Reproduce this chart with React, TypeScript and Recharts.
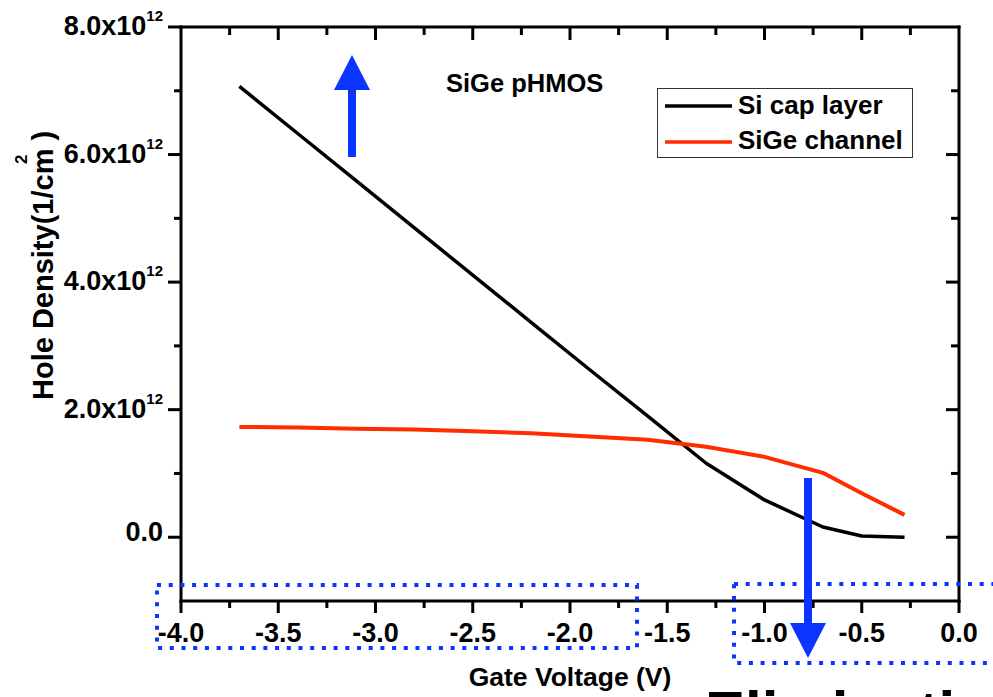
import React from 'react';
import { LineChart, Line, XAxis, YAxis, Legend } from 'recharts';

// gate voltage (V) and hole density in units of 1e12 cm^-2
const gateVoltage = [-3.7, -3.4, -3.1, -2.8, -2.5, -2.2, -1.9, -1.6, -1.3, -1.0, -0.7, -0.5, -0.28];
const siCapLayer = [7.07, 6.33, 5.59, 4.85, 4.11, 3.37, 2.63, 1.9, 1.16, 0.585, 0.16, 0.02, 0.0];
const sigeChannel = [1.73, 1.72, 1.7, 1.69, 1.66, 1.63, 1.58, 1.53, 1.42, 1.26, 1.01, 0.69, 0.35];

const xTicks = [-4, -3.75, -3.5, -3.25, -3, -2.75, -2.5, -2.25, -2, -1.75, -1.5, -1.25, -1, -0.75, -0.5, -0.25, 0];
const yTicks = [0, 1, 2, 3, 4, 5, 6, 7, 8];

const data = gateVoltage.map((v, i) => ({ v, cap: siCapLayer[i], sige: sigeChannel[i] }));

const FONT = '"Liberation Sans", Arial, sans-serif';
const tickFont: React.CSSProperties = { fontFamily: FONT, fontWeight: 'bold', fontSize: 27, fill: '#000' };
const axisStyle = { stroke: '#000', strokeWidth: 3, strokeLinecap: 'square' as const };
const BLUE = '#0b34ff';

// frame edges (top / right) for the mirrored inward ticks
const PLOT_TOP = 27;
const PLOT_RIGHT = 959;

const isMajorX = (v: number) => Math.abs(v * 2 - Math.round(v * 2)) < 1e-6;
const isMajorY = (v: number) => Math.round(v) % 2 === 0;

const BottomTick = (props: any) => {
  const { x, y, payload } = props;
  const v = payload.value;
  const major = isMajorX(v);
  return (
    <g>
      <line x1={x} x2={x} y1={y} y2={y + (major ? 12 : 7)} stroke="#000" strokeWidth={3} />
      {v > -4 && v < 0 && (
        <line x1={x} x2={x} y1={PLOT_TOP} y2={PLOT_TOP + (major ? 13 : 8)} stroke="#000" strokeWidth={3} />
      )}
      {major && (
        <text x={x} y={y + 41} textAnchor="middle" style={tickFont}>
          {v.toFixed(1)}
        </text>
      )}
    </g>
  );
};

const LeftTick = (props: any) => {
  const { x, y, payload } = props;
  const v = payload.value;
  const major = isMajorY(v);
  return (
    <g>
      <line x1={x} x2={x - (major ? 13 : 7)} y1={y} y2={y} stroke="#000" strokeWidth={3} />
      {v < 8 && (
        <line x1={PLOT_RIGHT} x2={PLOT_RIGHT - (major ? 13 : 8)} y1={y} y2={y} stroke="#000" strokeWidth={3} />
      )}
      {major && v === 0 && (
        <text x={x - 18} y={y + 4} textAnchor="end" style={tickFont}>0.0</text>
      )}
      {major && v !== 0 && (
        <text x={x - 18} y={y + 8} textAnchor="end" style={tickFont}>
          <tspan>{v.toFixed(1)}x10</tspan>
          <tspan fontSize={15} dy={-14}>12</tspan>
        </text>
      )}
    </g>
  );
};

const XTitle = () => (
  <text x={570} y={686} textAnchor="middle" style={{ ...tickFont, fontSize: 26.5 }}>Gate Voltage (V)</text>
);

const YTitle = () => (
  <g transform="rotate(-90, 53, 400)">
    <text x={53} y={400} style={{ ...tickFont, fontSize: 29 }}>Hole Density(1/cm )</text>
    <text x={53 + 236} y={400 - 26} style={{ ...tickFont, fontSize: 17 }}>2</text>
  </g>
);

const renderLegend = (props: any) => {
  const items = props.payload || [];
  return (
    <svg width={256} height={70} style={{ display: 'block' }}>
      <rect x={0.5} y={0.5} width={255} height={69} fill="#fff" stroke="#333" strokeWidth={1} />
      {items.map((it: any, i: number) => (
        <g key={it.value}>
          <line x1={8} x2={75} y1={18 + i * 36} y2={18 + i * 36} stroke={it.color} strokeWidth={3.5} />
          <text x={81} y={26 + i * 35} style={{ ...tickFont, fontSize: 26 }}>{it.value}</text>
        </g>
      ))}
    </svg>
  );
};

export default function App() {
  return (
    <div style={{ position: 'absolute', left: 0, top: 0, width: 993, height: 697, background: '#fff', overflow: 'hidden' }}>
      <LineChart width={993} height={697} data={data} margin={{ top: 0, right: 0, bottom: 0, left: 0 }}>
        <XAxis
          xAxisId="bottom"
          dataKey="v"
          type="number"
          domain={[-4, 0]}
          ticks={xTicks}
          interval={0}
          height={96}
          tickLine={false}
          tickSize={0}
          tickMargin={0}
          tick={BottomTick}
          axisLine={axisStyle}
          label={{ content: XTitle }}
        />
        <XAxis
          xAxisId="top"
          orientation="top"
          dataKey="v"
          type="number"
          domain={[-4, 0]}
          height={27}
          tickLine={false}
          tick={false}
          axisLine={axisStyle}
        />
        <YAxis
          yAxisId="left"
          type="number"
          domain={[-1, 8]}
          ticks={yTicks}
          interval={0}
          width={181}
          tickLine={false}
          tickSize={0}
          tickMargin={0}
          tick={LeftTick}
          axisLine={axisStyle}
          label={{ content: YTitle }}
        />
        <YAxis
          yAxisId="right"
          orientation="right"
          type="number"
          domain={[-1, 8]}
          width={34}
          tickLine={false}
          tick={false}
          axisLine={axisStyle}
        />
        <Legend
          layout="vertical"
          align="center"
          verticalAlign="middle"
          wrapperStyle={{ left: 657, top: 88, width: 256, height: 70 }}
          content={renderLegend}
        />
        <Line
          xAxisId="bottom"
          yAxisId="left"
          type="linear"
          dataKey="cap"
          name="Si cap layer"
          stroke="#000"
          strokeWidth={3.5}
          dot={false}
          strokeLinejoin="round"
          isAnimationActive={false}
        />
        <Line
          xAxisId="bottom"
          yAxisId="left"
          type="linear"
          dataKey="sige"
          name="SiGe channel"
          stroke="#ff2d00"
          strokeWidth={4}
          dot={false}
          strokeLinejoin="round"
          isAnimationActive={false}
        />
      </LineChart>
      <svg width={993} height={697} style={{ position: 'absolute', left: 0, top: 0, pointerEvents: 'none' }}>
        <text x={446} y={92} style={{ ...tickFont, fontSize: 25.5 }}>SiGe pHMOS</text>
        <rect x={157} y={585} width={480} height={63} fill="none" stroke={BLUE} strokeWidth={4} strokeDasharray="4 7.7" />
        <rect x={734} y={584} width={280} height={79} fill="none" stroke={BLUE} strokeWidth={4} strokeDasharray="4 7.7" />
        <rect x={348} y={89} width={8} height={68} fill={BLUE} />
        <polygon points="334,90 370,90 352,55" fill={BLUE} />
        <rect x={804} y={478} width={8} height={146} fill={BLUE} />
        <polygon points="790,623 826,623 808,658" fill={BLUE} />
        <text x={705} y={733} style={{ ...tickFont, fontSize: 60 }}>Elimination</text>
      </svg>
    </div>
  );
}
